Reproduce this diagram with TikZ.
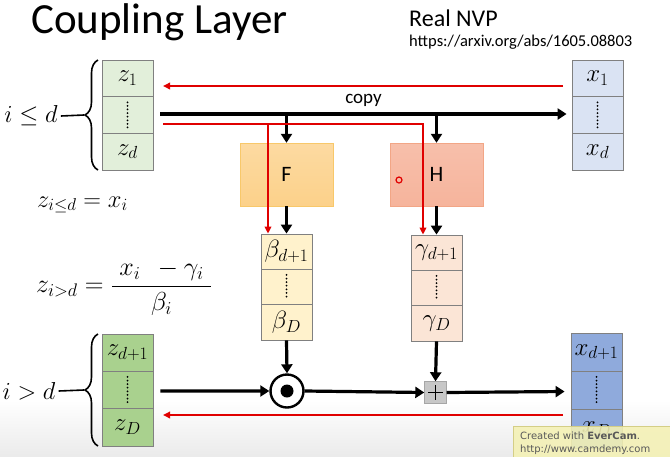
\RequirePackage{fix-cm}
\documentclass[tikz,border=0pt]{standalone}
\usepackage{fontspec}
\setmainfont{Carlito}
\newfontfamily\wmfont{DejaVu Sans}
\usetikzlibrary{arrows.meta,decorations.pathreplacing,calc}
\definecolor{zlight}{HTML}{E2EFDA}
\definecolor{zdark}{HTML}{A9D18E}
\definecolor{xlight}{HTML}{DAE3F3}
\definecolor{xdark}{HTML}{8FAADC}
\definecolor{betac}{HTML}{FFF2CC}
\definecolor{gammac}{HTML}{FBE5D6}
\definecolor{fbox}{HTML}{FCD18A}
\definecolor{fedge}{HTML}{F8C86A}
\definecolor{hbox}{HTML}{F6B49C}
\definecolor{hedge}{HTML}{F2A686}
\definecolor{myred}{HTML}{E00000}
\definecolor{wmfill}{HTML}{F4F1B4}
\definecolor{wmedge}{HTML}{D4CE86}
\newcommand\mycolumn[7]{%
  \pgfmathsetmacro\myhh{(#4-#3)/3}%
  \node[cell,fill=#5,minimum height=\myhh pt] (#1a) at (#2,{#3+0.5*\myhh}) {#6};%
  \node[cell,fill=#5,minimum height=\myhh pt] (#1b) at (#2,{#3+1.5*\myhh}) {};%
  \node[cell,fill=#5,minimum height=\myhh pt] (#1c) at (#2,{#3+2.5*\myhh}) {#7};%
  \draw[vdots] ($(#1b.north)+(0,6)$) -- ($(#1b.south)+(0,-6)$);%
}
\begin{document}
\begin{tikzpicture}[x=1pt,y=-1pt,
  cell/.style={draw=black!50, line width=0.8pt, minimum width=51pt, inner sep=0pt, font=\fontsize{25}{25}\selectfont},
  vdots/.style={line width=2pt, line cap=round, dash pattern=on 0pt off 3.6pt},
  blk/.style={line width=3.2pt, -{Triangle[length=9pt,width=11pt]}},
  redarr/.style={draw=myred, line width=1.8pt, -{Triangle[length=7pt,width=6.5pt]}},
  netbox/.style={minimum width=93pt, minimum height=63pt, inner sep=0pt, font=\fontsize{22}{22}\selectfont},
  bracestyle/.style={decorate, decoration={brace, amplitude=13pt}, line width=1.6pt},
  eqn/.style={font=\fontsize{24.5}{24.5}\selectfont, inner sep=0pt}
]
\useasboundingbox (0,0) rectangle (670,456);
\fill[white] (0,0) rectangle (670,456);
\shade[top color=white, bottom color=black!8] (0,400) rectangle (670,456);

% titles
\node[anchor=west, inner sep=0pt, font=\fontsize{43}{43}\selectfont] (title) at (31,22) {Coupling Layer};
\node[anchor=west, inner sep=0pt, font=\fontsize{24}{24}\selectfont] (nvp) at (409,18) {Real NVP};
\node[anchor=west, inner sep=0pt, font=\fontsize{16.5}{16.5}\selectfont] (url) at (409,42) {https://arxiv.org/abs/1605.08803};

% columns
\mycolumn{zt}{127.5}{60}{170}{zlight}{$z_1$}{$z_d$}
\mycolumn{xt}{597.5}{60}{170}{xlight}{$x_1$}{$x_d$}
\mycolumn{bt}{286.5}{234}{340}{betac}{$\beta_{d+1}$}{$\beta_D$}
\mycolumn{gt}{436.5}{235}{341}{gammac}{$\gamma_{d+1}$}{$\gamma_D$}
\mycolumn{zb}{127.5}{334}{446}{zdark}{$z_{d+1}$}{$z_D$}
\mycolumn{xb}{596.5}{333}{448}{xdark}{$x_{d+1}$}{$x_D$}

% F and H
\node[netbox, draw=fedge, top color=fbox!80!white, bottom color=fbox] (F) at (286.5,174.5) {F};
\node[netbox, draw=hedge, top color=hbox!85!white, bottom color=hbox] (H) at (436.5,174.5) {H};
\node[circle, draw=myred, line width=1.2pt, minimum size=6pt, inner sep=0pt] (dot) at (399,180) {};

% braces and labels
\node[eqn] (ile) at (31,116) {$i \le d$};
\node[eqn] (igt) at (29,391) {$i > d$};
\draw[bracestyle] (98,170) -- (98,60);
\draw[bracestyle] (98,446) -- (98,334);
\coordinate (tipt) at (84,115);
\coordinate (tipb) at (84,390);
\draw[line width=1.6pt] (ile.east) ++(3,0) -- (tipt);
\draw[line width=1.6pt] (igt.east) ++(3,0) -- (tipb);

% equations
\node[eqn, anchor=west] (eq1) at (37,205) {$z_{i\le d} = x_i$};
\node[eqn, anchor=west, font=\fontsize{26}{26}\selectfont] (eq2) at (36,288) {$\displaystyle z_{i> d} = \frac{\;x_i\ \ -\gamma_i\;}{\beta_i}$};

% top flow
\draw[blk] ($(ztb.east)+(7,-1)$) -- ($(xtb.west)+(-5,-1)$) node[midway, above=3pt, font=\fontsize{19}{19}\selectfont] (copy) {copy};
\draw[blk] (F.north |- ztb.east) ++(0,-1) -- (F.north);
\draw[blk] (H.north |- ztb.east) ++(0,-1) -- (H.north);
\draw[blk] (F.south) -- (bta.north);
\draw[blk] (H.south) -- (gta.north);

% red top
\coordinate (r1s) at (563,86);
\coordinate (r1e) at (163,86);
\draw[redarr] (r1s) -- (r1e);
\coordinate (rs) at (163,124);
\coordinate (rb) at (268,124);
\coordinate (rg) at (423,124);
\draw[redarr] (rs) -- (rg) -- (rg |- gta.north);
\draw[redarr] (rb) -- (rb |- bta.north);

% bottom flow
\node[circle, draw, line width=2.4pt, minimum size=33pt, inner sep=0pt, fill=white] (odot) at (287,391) {};
\fill (odot.center) circle (6.5);
\node[draw=black!35, fill=black!22, minimum size=22pt, inner sep=0pt] (plus) at (435.5,392.5) {};
\draw[line width=1.2pt] ($(plus.center)+(-7.5,0)$) -- ($(plus.center)+(7.5,0)$);
\draw[line width=1.2pt] ($(plus.center)+(0,-7.5)$) -- ($(plus.center)+(0,7.5)$);
\draw[blk] (btc.south) -- (odot.north);
\draw[blk] (gtc.south) -- (plus.north);
\draw[blk] ($(zbb.east)+(7,1)$) -- (odot.west);
\draw[blk] (odot.east) -- (plus.west);
\draw[blk] (plus.east) -- ($(xbb.west)+(-6,1)$);
\coordinate (r2s) at (563,415);
\coordinate (r2e) at (163,415);
\draw[redarr] (r2s) -- (r2e);

% watermark
\node[draw=wmedge, fill=wmfill, fill opacity=0.88, text opacity=1, line width=0.8pt, minimum width=160pt, minimum height=31pt, anchor=north west, inner sep=0pt] (wm) at (513,426) {};
\node[anchor=west, inner sep=0pt, text=black!65, font=\wmfont\fontsize{10}{10}\selectfont] (wm1) at (520,436) {Created with \textbf{EverCam}.};
\node[anchor=west, inner sep=0pt, text=black!65, font=\wmfont\fontsize{10}{10}\selectfont] (wm2) at (520,450) {http://www.camdemy.com};
\end{tikzpicture}
\end{document}
